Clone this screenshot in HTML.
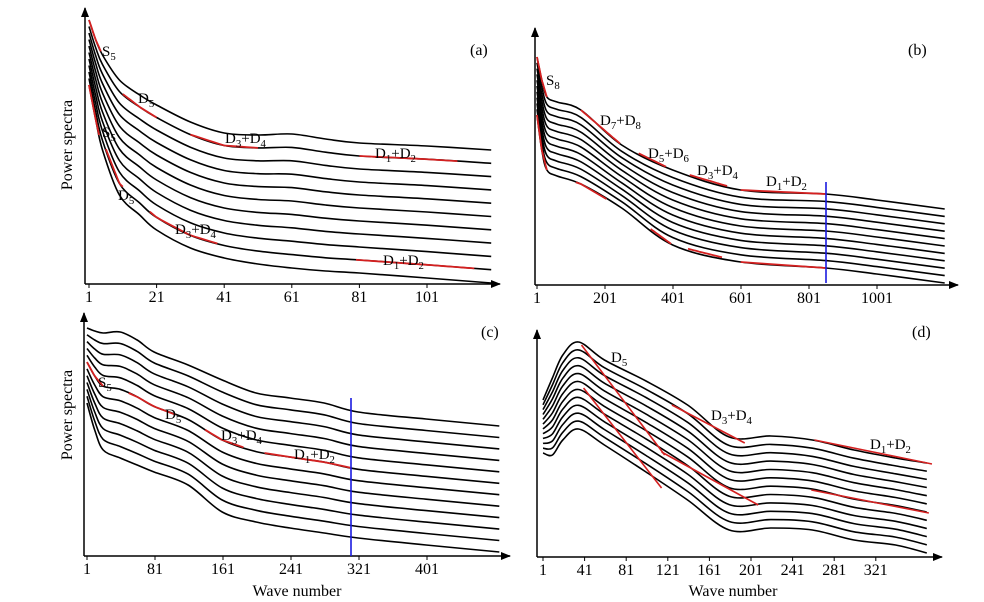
<!DOCTYPE html>
<html><head><meta charset="utf-8"><style>
html,body{margin:0;padding:0;background:#fff;}
svg{display:block;font-family:"Liberation Serif",serif;}
</style></head><body>
<svg id="fig" width="984" height="602" viewBox="0 0 984 602" xmlns="http://www.w3.org/2000/svg">
<defs><marker id="ar" markerWidth="10" markerHeight="8" refX="9" refY="4" orient="auto" markerUnits="userSpaceOnUse"><path d="M0,0 L10,4 L0,8 Z" fill="#000"/></marker></defs>
<g id="layer"></g>
</svg>
<script>
// ---- data (wave number -> plotted curve shape, in panel units) ----
// panel (a)
const aX = [1, 3, 5, 10, 16, 21, 31, 41, 51, 61, 71, 81, 101, 120];
const aTop = [20, 40, 55, 80, 95, 105, 122, 133, 135, 134, 139, 143, 146, 150];
const aBot = [85, 120, 150, 195, 215, 230, 248, 258, 264, 268, 271, 273, 278, 283];
const aTicks = [1, 21, 41, 61, 81, 101];
// panel (b)
const bX = [1, 15, 30, 60, 130, 250, 400, 600, 850, 1000, 1200];
const bTop = [57, 80, 97, 102, 110, 145, 170, 190, 194, 200, 209];
const bBot = [115, 150, 170, 176, 184, 208, 245, 262, 268, 274, 283];
const bTicks = [1, 201, 401, 601, 801, 1001];
// panel (c)
const cX = [1, 10, 20, 40, 60, 80, 120, 160, 200, 240, 280, 320, 400, 486];
const cTop = [328, 331, 333, 332, 340, 352, 365, 380, 393, 398, 403, 412, 419, 426];
const cBot = [403, 430, 450, 458, 465, 472, 485, 512, 522, 528, 533, 538, 545, 552];
const cTicks = [1, 81, 161, 241, 321, 401];
// panel (d)
const dX = [1, 10, 20, 35, 60, 100, 140, 180, 220, 260, 300, 340, 370];
const dTop = [400, 378, 355, 342, 360, 381, 405, 437, 436, 440, 450, 458, 463];
const dBot = [453, 455, 440, 429, 445, 472, 500, 530, 528, 530, 540, 545, 553];
const dTicks = [1, 41, 81, 121, 161, 201, 241, 281, 321];

// red fit segments on curves: [panel, curveIndex, waveFrom, waveTo]
const fitSegs = [
  ['a',0,1,4.5],['a',1,11,21],['a',1,31,51],['a',1,81,110],
  ['a',10,1,4],['a',9,6,11],['a',9,19,39],['a',9,80,115],
  ['b',0,1,30],['b',0,130,245],['b',0,300,380],['b',0,450,560],['b',0,600,850],
  ['b',10,1,30],['b',10,115,205],['b',10,335,395],['b',10,445,545],['b',10,600,850],
  ['c',5,1,20],['c',5,50,105],['c',5,140,185],['c',5,210,311]
];
// straight fit lines in panel (d) (cross several curves), wave/pixel units
const dLines = [[38,345,118,455],[40,388,115,488],[125,405,195,443],[115,452,208,505],[262,440,375,464],[259,490,372,513]];

const NS = "http://www.w3.org/2000/svg";
const layer = document.getElementById('layer');
function mk(tag, attrs, parent) {
  const e = document.createElementNS(NS, tag);
  for (const k in attrs) e.setAttribute(k, attrs[k]);
  (parent || layer).appendChild(e);
  return e;
}
function smooth(pts) {
  let d = `M${pts[0][0]},${pts[0][1]}`;
  for (let i = 0; i < pts.length - 1; i++) {
    const p0 = pts[Math.max(0, i - 1)], p1 = pts[i], p2 = pts[i + 1], p3 = pts[Math.min(pts.length - 1, i + 2)];
    const c1 = [p1[0] + (p2[0] - p0[0]) / 6, p1[1] + (p2[1] - p0[1]) / 6];
    const c2 = [p2[0] - (p3[0] - p1[0]) / 6, p2[1] - (p3[1] - p1[1]) / 6];
    d += ` C${c1[0].toFixed(1)},${c1[1].toFixed(1)} ${c2[0].toFixed(1)},${c2[1].toFixed(1)} ${p2[0]},${p2[1]}`;
  }
  return d;
}
function sub(t, x, y, parts, size) {
  size = size || 15;
  const el = mk('text', { x: x, y: y, 'font-size': size });
  
  
  let prevSub = false;
  parts.forEach(p => {
    const ts = document.createElementNS(NS, 'tspan');
    ts.textContent = p[0];
    if (p[1]) { ts.setAttribute('font-size', size * 0.72); ts.setAttribute('dy', 4); prevSub = true; }
    else { ts.setAttribute('dy', prevSub ? -4 : 0); prevSub = false; }
    el.appendChild(ts);
  });
  return el;
}
const panels = {};
function panel(cfg) {
  panels[cfg.id] = cfg;
  const g = mk('g', {});
  
  
  const sx = v => cfg.x0 + (v - 1) * cfg.k;
  cfg.sx = sx;
  const ya = mk('line', { x1: cfg.ax, y1: cfg.yb, x2: cfg.ax, y2: cfg.yt, stroke: '#000', 'stroke-width': 1.5, 'marker-end': 'url(#ar)' }, g);
  
  
  const xa = mk('line', { x1: cfg.ax, y1: cfg.yb, x2: cfg.xr, y2: cfg.yb, stroke: '#000', 'stroke-width': 1.5, 'marker-end': 'url(#ar)' }, g);
  
  
  cfg.ticks.forEach(t => {
    const tl = mk('line', { x1: sx(t), y1: cfg.yb, x2: sx(t), y2: cfg.yb + 4, stroke: '#000', 'stroke-width': 1 }, g);
    
    
    const tx = mk('text', { x: sx(t), y: cfg.yb + 18, 'font-size': 16, 'text-anchor': 'middle' }, g);
    tx.textContent = t;
    
    
  });
  for (let i = 0; i < cfg.n; i++) {
    const f = i / (cfg.n - 1);
    const pts = cfg.X.map((v, j) => [+sx(v).toFixed(1), +(cfg.top[j] * (1 - f) + cfg.bot[j] * f).toFixed(1)]);
    const p = mk('path', { d: smooth(pts), fill: 'none', stroke: '#000', 'stroke-width': 1.6 }, g);
    
    
  }
  const lab = mk('text', { x: cfg.lx, y: cfg.ly, 'font-size': 16 }, g);
  lab.textContent = '(' + cfg.id + ')';
  
  
}
function curveY(cfg, i, v) {
  const f = i / (cfg.n - 1);
  const X = cfg.X;
  let j = 0;
  while (j < X.length - 2 && v > X[j + 1]) j++;
  const t = Math.max(0, Math.min(1, (v - X[j]) / (X[j + 1] - X[j])));
  const ya = cfg.top[j] * (1 - f) + cfg.bot[j] * f;
  const yb = cfg.top[j + 1] * (1 - f) + cfg.bot[j + 1] * f;
  return ya + (yb - ya) * t;
}
panel({ id: 'a', X: aX, top: aTop, bot: aBot, ticks: aTicks, n: 11, x0: 89, k: 3.38, ax: 85, yb: 284, yt: 8, xr: 500, lx: 470, ly: 55 });
panel({ id: 'b', X: bX, top: bTop, bot: bBot, ticks: bTicks, n: 11, x0: 537, k: 0.34, ax: 535, yb: 285, yt: 28, xr: 958, lx: 908, ly: 55 });
panel({ id: 'c', X: cX, top: cTop, bot: cBot, ticks: cTicks, n: 12, x0: 87, k: 0.85, ax: 84, yb: 556, yt: 313, xr: 510, lx: 481, ly: 337 });
panel({ id: 'd', X: dX, top: dTop, bot: dBot, ticks: dTicks, n: 12, x0: 543, k: 1.04, ax: 537, yb: 557, yt: 330, xr: 942, lx: 912, ly: 337 });

fitSegs.forEach(s => {
  const cfg = panels[s[0]];
  const pts = [];
  for (let q = 0; q <= 12; q++) {
    const v = s[2] + (s[3] - s[2]) * q / 12;
    pts.push([+cfg.sx(v).toFixed(1), +curveY(cfg, s[1], v).toFixed(1)]);
  }
  const l = mk('polyline', { points: pts.map(p => p.join(',')).join(' '), fill: 'none', stroke: '#d42020', 'stroke-width': 1.8 });
  
  
});
dLines.forEach(r => {
  const sx = panels.d.sx;
  const l = mk('line', { x1: sx(r[0]), y1: r[1], x2: sx(r[2]), y2: r[3], stroke: '#d42020', 'stroke-width': 1.6 });
  
  
});
[[826,182,283],[351,398,556]].forEach(b => {
  const l = mk('line', { x1: b[0], y1: b[1], x2: b[0], y2: b[2], stroke: '#1a1adf', 'stroke-width': 1.6 });
  
  
});
sub('label-s5', 102, 56, [['S'],['5',1]]);
sub('label-d5', 138, 103, [['D'],['5',1]]);
sub('label-d3d4', 225, 143, [['D'],['3',1],['+D'],['4',1]]);
sub('label-d1d2', 375, 158, [['D'],['1',1],['+D'],['2',1]]);
sub('label-s5b', 102, 137, [['S'],['5',1]]);
sub('label-d5b', 118, 200, [['D'],['5',1]]);
sub('label-d3d4b', 175, 234, [['D'],['3',1],['+D'],['4',1]]);
sub('label-d1d2b', 383, 265, [['D'],['1',1],['+D'],['2',1]]);
sub('label-s8', 546, 85, [['S'],['8',1]]);
sub('label-d7d8', 600, 125, [['D'],['7',1],['+D'],['8',1]]);
sub('label-d5d6', 648, 158, [['D'],['5',1],['+D'],['6',1]]);
sub('label-d3d4', 697, 175, [['D'],['3',1],['+D'],['4',1]]);
sub('label-d1d2', 766, 186, [['D'],['1',1],['+D'],['2',1]]);
sub('label-s5c', 98, 387, [['S'],['5',1]]);
sub('label-d5c', 165, 419, [['D'],['5',1]]);
sub('label-d3d4c', 221, 440, [['D'],['3',1],['+D'],['4',1]]);
sub('label-d1d2c', 294, 459, [['D'],['1',1],['+D'],['2',1]]);
sub('label-d5d', 611, 362, [['D'],['5',1]]);
sub('label-d3d4d', 711, 420, [['D'],['3',1],['+D'],['4',1]]);
sub('label-d1d2d', 870, 449, [['D'],['1',1],['+D'],['2',1]]);
[[72,145],[72,415]].forEach(p => {
  const t = mk('text', { x: p[0], y: p[1], 'font-size': 16, 'text-anchor': 'middle', transform: `rotate(-90 ${p[0]} ${p[1]})` });
  t.textContent = 'Power spectra';
  
  
});
[[297,596],[733,596]].forEach(p => {
  const t = mk('text', { x: p[0], y: p[1], 'font-size': 16, 'text-anchor': 'middle' });
  t.textContent = 'Wave number';
  
  
});
</script>
</body></html>
